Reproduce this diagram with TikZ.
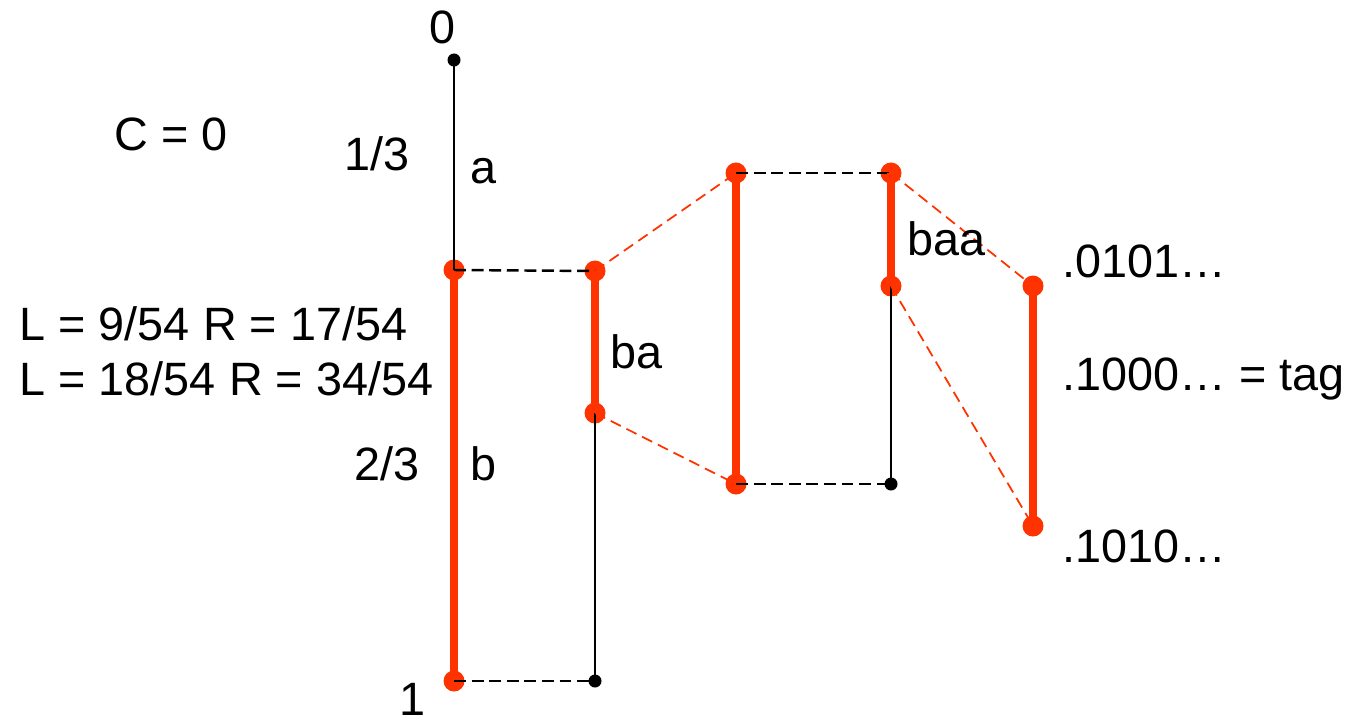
\documentclass[tikz,border=0pt]{standalone}
\usepackage{fontspec}
\setmainfont{Liberation Sans}
\definecolor{intred}{RGB}{255,51,0}
\tikzset{
  reddot/.style={circle, fill=intred, inner sep=0pt, minimum size=0.21cm},
  blackdot/.style={circle, fill=black, inner sep=0pt, minimum size=0.13cm},
  interval/.style={intred, line width=2.3pt},
  spanline/.style={black, line width=0.6pt},
  guide/.style={black, line width=0.7pt, dash pattern=on 3.4pt off 1.6pt},
  mapline/.style={intred, line width=0.5pt, dash pattern=on 3.2pt off 1.8pt},
  lbl/.style={inner sep=0pt, anchor=base west, font=\fontsize{13.3}{16}\selectfont}
}
\begin{document}
\begin{tikzpicture}[x=0.01cm, y=-0.01cm]
    \useasboundingbox (0,0) rectangle (1355,721);

    % Column 1: the whole interval
    \node[blackdot] (zero) at (454,60) {};
    \node[reddot] (bT) at (454,270) {};
    \node[reddot] (bB) at (454,681) {};
    \draw[spanline] (zero.center) -- (bT.center);
    \draw[interval] (bT.center) -- (bB.center);

    % Column 2: interval b, split into ba
    \node[reddot] (baT) at (595,271) {};
    \node[reddot] (baB) at (595,413) {};
    \node[blackdot] (bEnd) at (595,681) {};
    \draw[guide] (bT.center) -- (baT.center);
    \draw[guide] (bB.center) -- (bEnd.center);
    \draw[interval] (baT.center) -- (baB.center);
    \draw[spanline] (baB.center) -- (bEnd.center);

    % Column 3: ba rescaled
    \node[reddot] (wideT) at (736,173) {};
    \node[reddot] (wideB) at (736,484) {};
    \draw[mapline] (baT.center) -- (wideT.center);
    \draw[mapline] (baB.center) -- (wideB.center);
    \draw[interval] (wideT.center) -- (wideB.center);

    % Column 4: ba split into baa
    \node[reddot] (baaT) at (891,173) {};
    \node[reddot] (baaB) at (891,286) {};
    \node[blackdot] (baEnd) at (891,484) {};
    \draw[guide] (wideT.center) -- (baaT.center);
    \draw[guide] (wideB.center) -- (baEnd.center);
    \draw[interval] (baaT.center) -- (baaB.center);
    \draw[spanline] (baaB.center) -- (baEnd.center);

    % Column 5: baa rescaled, holding the tag
    \node[reddot] (tagT) at (1033,286) {};
    \node[reddot] (tagB) at (1033,526) {};
    \draw[mapline] (baaT.center) -- (tagT.center);
    \draw[mapline] (baaB.center) -- (tagB.center);
    \draw[interval] (tagT.center) -- (tagB.center);

    % Labels
    \node[lbl, anchor=base] (lZero) at (442,43) {0};
    \node[lbl, anchor=base] (lOne) at (412,715) {1};
    \node[lbl] (lC) at (114,150) {C = 0};
    \node[lbl] (lThird) at (344,170) {1/3};
    \node[lbl] (lA) at (470,183) {a};
    \node[lbl] (lTwoThird) at (354,480) {2/3};
    \node[lbl] (lB) at (470,480) {b};
    \node[lbl] (lLR1) at (19,340) {L = 9/54 R = 17/54};
    \node[lbl] (lLR2) at (19,395) {L = 18/54 R = 34/54};
    \node[lbl] (lBa) at (610,368) {ba};
    \node[lbl] (lBaa) at (907,255) {baa};
    \node[lbl] (lTop) at (1062,277) {.0101…};
    \node[lbl] (lTag) at (1062,390) {.1000… = tag};
    \node[lbl] (lBot) at (1062,562) {.1010…};
\end{tikzpicture}
\end{document}
